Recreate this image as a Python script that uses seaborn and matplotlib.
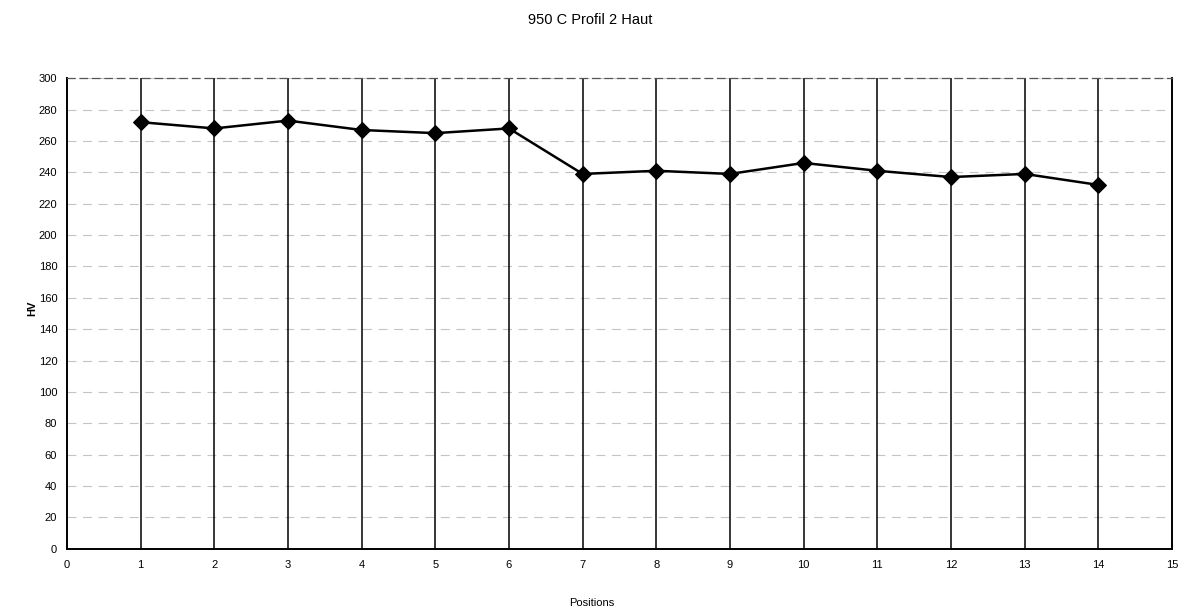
import matplotlib
matplotlib.use("Agg")
import matplotlib.pyplot as plt
import seaborn as sns
import pandas as pd

# Vickers hardness profile, measured at 14 positions
positions = list(range(1, 15))
hv = [272, 268, 273, 267, 265, 268, 239, 241, 239, 246, 241, 237, 239, 232]
x_ticks = list(range(0, 16))
y_ticks = list(range(0, 301, 20))

title = "950 C Profil 2 Haut"
x_label = "Positions"
y_label = "HV"

sns.set_theme(style="white")
plt.rcParams['font.family'] = ['Liberation Sans', 'DejaVu Sans']

fig = plt.figure(figsize=(11.83, 6.16), dpi=100)
ax = fig.add_axes([0.0566, 0.109, 0.9341, 0.764])

df = pd.DataFrame({x_label: positions, y_label: hv})

# faint horizontal grid every 20 HV, dark vertical grid at each position
for yv in y_ticks[1:]:
    ax.axhline(yv, color="#c4c4c4", lw=0.8, ls=(0, (8, 6)), zorder=0)
for xv in x_ticks[1:-1]:
    ax.axvline(xv, color="black", lw=1.1, zorder=1)

sns.lineplot(data=df, x=x_label, y=y_label, ax=ax, color="black",
             lw=1.8, marker="D", markersize=8, markeredgecolor="black",
             markerfacecolor="black", zorder=3)

ax.set_xlim(0, 15)
ax.set_ylim(0, 300)
ax.set_xticks(x_ticks)
ax.set_yticks(y_ticks)
ax.tick_params(axis="both", length=0, labelsize=8, colors="black")
ax.tick_params(axis="x", pad=8)
ax.tick_params(axis="y", pad=7)
ax.set_xlabel("")
ax.set_ylabel("")

for side in ["left", "bottom", "right"]:
    ax.spines[side].set_visible(True)
    ax.spines[side].set_color("black")
    ax.spines[side].set_linewidth(1.4)
ax.spines["top"].set_visible(True)
ax.spines["top"].set_color("#555555")
ax.spines["top"].set_linewidth(0.9)
ax.spines["top"].set_linestyle((0, (6, 4)))

fig.text(0.499, 1 - 20 / 616, title, ha="center", va="center", fontsize=10.5, color="black")
fig.text(32 / 1183, 0.5, y_label, ha="center", va="center", rotation=90,
         fontsize=8, fontweight="bold", color="black")
fig.text(0.5, 1 - 603 / 616, x_label, ha="center", va="center", fontsize=8, color="black")

fig.savefig("out.png", dpi=100)
